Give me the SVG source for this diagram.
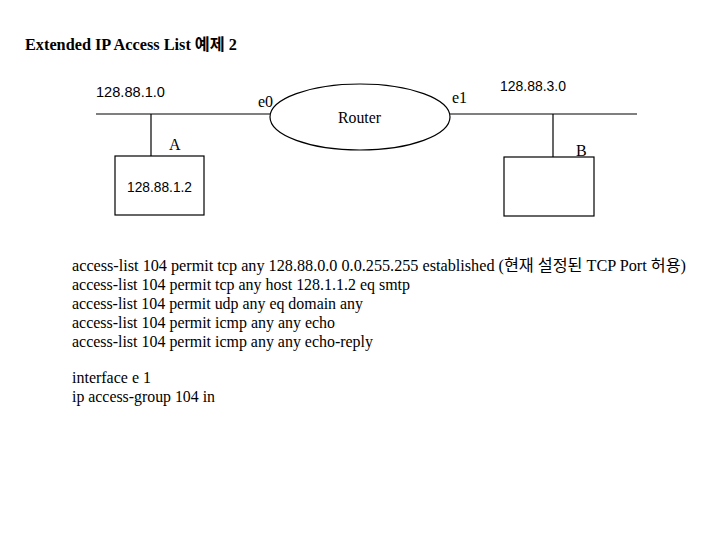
<svg xmlns="http://www.w3.org/2000/svg" width="720" height="540" viewBox="0 0 720 540">
<style>
.s{font-family:"Liberation Serif","Noto Sans CJK KR",serif;font-size:16px;fill:#000}
.a{font-family:"Liberation Sans","Noto Sans CJK KR",sans-serif;font-size:15px;fill:#000}
.t{font-family:"Liberation Serif","Noto Sans CJK KR",serif;font-size:16px;font-weight:bold;fill:#000}
.l{stroke:#000;stroke-width:1.2;fill:none}
</style>
<rect width="720" height="540" fill="#fff"/>
<text class="t" x="25" y="50" textLength="212" lengthAdjust="spacingAndGlyphs">Extended IP Access List 예제 2</text>
<g id="connectors">
<line class="l" x1="96" y1="114" x2="270" y2="114"/>
<line class="l" x1="151" y1="114" x2="151" y2="156"/>
<line class="l" x1="450" y1="114" x2="637" y2="114"/>
<line class="l" x1="553" y1="114" x2="553" y2="157"/>
</g>
<g id="net1"><text class="a" x="96" y="97" textLength="69" lengthAdjust="spacingAndGlyphs">128.88.1.0</text></g>
<g id="net3"><text class="a" x="500" y="91" textLength="66" lengthAdjust="spacingAndGlyphs">128.88.3.0</text></g>
<g id="router">
<ellipse class="l" cx="360" cy="117" rx="90" ry="33"/>
<text class="s" x="338" y="123" textLength="43" lengthAdjust="spacingAndGlyphs">Router</text>
<text class="s" x="258" y="107">e0</text>
<text class="s" x="452" y="103">e1</text>
</g>
<g id="hostA">
<rect class="l" x="115" y="156" width="89" height="59"/>
<text class="s" x="169" y="150">A</text>
<text class="a" x="127" y="192" textLength="65" lengthAdjust="spacingAndGlyphs">128.88.1.2</text>
</g>
<g id="hostB">
<rect class="l" x="504" y="157" width="90" height="59"/>
<text class="s" x="576" y="156">B</text>
</g>
<g id="config">
<text class="s" x="72" y="271" textLength="614" lengthAdjust="spacingAndGlyphs">access-list 104 permit tcp any 128.88.0.0 0.0.255.255 established (현재 설정된 TCP Port 허용)</text>
<text class="s" x="72" y="290" textLength="338" lengthAdjust="spacingAndGlyphs">access-list 104 permit tcp any host 128.1.1.2 eq smtp</text>
<text class="s" x="72" y="309" textLength="291" lengthAdjust="spacingAndGlyphs">access-list 104 permit udp any eq domain any</text>
<text class="s" x="72" y="328" textLength="263" lengthAdjust="spacingAndGlyphs">access-list 104 permit icmp any any echo</text>
<text class="s" x="72" y="347" textLength="301" lengthAdjust="spacingAndGlyphs">access-list 104 permit icmp any any echo-reply</text>
<text class="s" x="72" y="383" textLength="79" lengthAdjust="spacingAndGlyphs">interface e 1</text>
<text class="s" x="72" y="402" textLength="143" lengthAdjust="spacingAndGlyphs">ip access-group 104 in</text>
</g>
</svg>
